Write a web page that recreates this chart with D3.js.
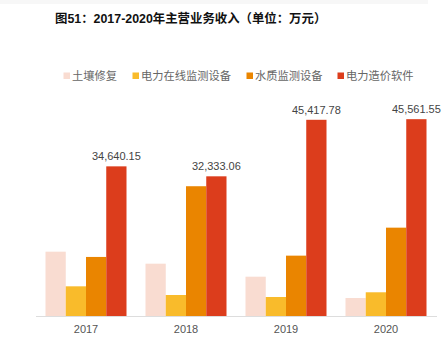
<!DOCTYPE html>
<html><head><meta charset="utf-8">
<script src="https://cdn.jsdelivr.net/npm/d3@7"></script>
<style>body{margin:0;background:#fff;}svg{display:block;}</style>
</head><body>
<svg id="c" width="442" height="342"></svg>
<script>
const years = ["2017","2018","2019","2020"];
const seriesNames = ["土壤修复","电力在线监测设备","水质监测设备","电力造价软件"];
const soil = [14890, 12110, 9100, 4170];
const powerMonitor = [6870, 4860, 4400, 5490];
const water = [13670, 30040, 13970, 20450];
const software = [34640.15, 32333.06, 45417.78, 45561.55];
const colors = ["#F9DCD1","#F9BB2B","#EA8500","#DC3D1C"];
const title = "图51：2017-2020年主营业务收入（单位：万元）";

const series = [soil, powerMonitor, water, software];
const svg = d3.select("#c");
const font = "'Helvetica Neue', Arial, 'Liberation Sans', 'Noto Sans CJK SC', sans-serif";

svg.append("rect").attr("x",0).attr("y",0).attr("width",428).attr("height",4).attr("fill","#f7f7f7");

svg.append("text").attr("x",55).attr("y",22.5).text(title)
  .attr("font-family",font).attr("font-weight","bold").attr("font-size",12.4).attr("fill","#111");

const x0 = d3.scaleBand().domain(years).range([36,436]).paddingInner(0.19).paddingOuter(0.095);
const x1 = d3.scaleBand().domain(d3.range(4)).range([0,x0.bandwidth()]);
const y = d3.scaleLinear().domain([0,50000]).range([316,100]);

// legend
const legX = [63.5,132.5,246.5,337.5];
const leg = svg.append("g");
seriesNames.forEach((n,i)=>{
  leg.append("rect").attr("x",legX[i]).attr("y",72.5).attr("width",6.5).attr("height",6.5).attr("fill",colors[i]);
  leg.append("text").attr("x",legX[i]+8.5).attr("y",80).text(n)
    .attr("font-family",font).attr("font-size",11.25).attr("fill","#666");
});

const g = svg.append("g");
years.forEach((yr,j)=>{
  series.forEach((s,i)=>{
    g.append("rect").attr("x",x0(yr)+x1(i)).attr("y",y(s[j]))
      .attr("width",x1.bandwidth()).attr("height",316-y(s[j])).attr("fill",colors[i]);
  });
  g.append("text").attr("x",x0(yr)+x1(3)+x1.bandwidth()/2).attr("y",y(software[j])-6)
    .attr("text-anchor","middle").text(d3.format(",.2f")(software[j]))
    .attr("font-family",font).attr("font-size",11).attr("fill","#444");
});

const ax = svg.append("g").attr("transform","translate(0,316)")
  .call(d3.axisBottom(x0).tickSize(0).tickPadding(9));
ax.select(".domain").attr("stroke","#ddd").attr("d","M36,0.5H437");
ax.selectAll("text").attr("font-family",font).attr("font-size",11).attr("fill","#555");
</script>
</body></html>
